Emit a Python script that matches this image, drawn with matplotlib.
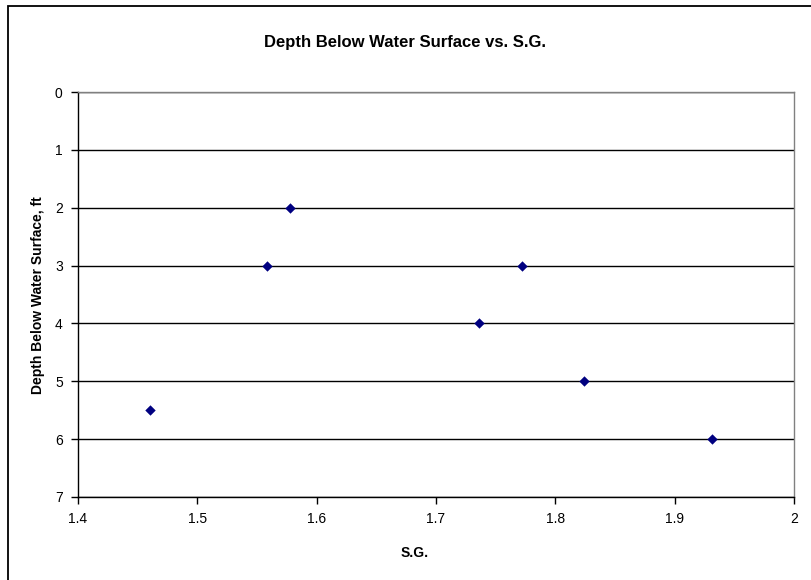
import matplotlib
matplotlib.use('Agg')
import matplotlib.pyplot as plt
from matplotlib.patches import Rectangle

plt.rcParams['font.family'] = ['Liberation Sans', 'DejaVu Sans']

# specific gravity vs depth readings
sg = [1.578, 1.558, 1.46, 1.736, 1.772, 1.824, 1.931]
depth_ft = [2, 3, 5.5, 4, 3, 5, 6]

x_ticks = [1.4, 1.5, 1.6, 1.7, 1.8, 1.9, 2.0]
x_tick_labels = ['1.4', '1.5', '1.6', '1.7', '1.8', '1.9', '2']
y_ticks = [0, 1, 2, 3, 4, 5, 6, 7]

fig = plt.figure(figsize=(8.11, 5.8), dpi=100)

# chart-area border (Excel style, runs off right/bottom edge)
fig.patches.append(Rectangle((8 / 811, -0.05), 1.2, 1 - 6 / 580 + 0.05,
                             transform=fig.transFigure, fill=False,
                             edgecolor='black', linewidth=1.3))

ax = fig.add_axes([78 / 811, 1 - 497 / 580, (794 - 78) / 811, (497 - 92) / 580])

ax.scatter(sg, depth_ft, marker='D', s=28, color='#000080', zorder=3, linewidths=0)

ax.set_xlim(1.4, 2.0)
ax.set_ylim(7, 0)
ax.set_xticks(x_ticks)
ax.set_xticklabels(x_tick_labels)
ax.set_yticks(y_ticks)

ax.yaxis.grid(True, color='black', linewidth=1)
ax.set_axisbelow(True)

for side in ['top', 'right']:
    ax.spines[side].set_color('#808080')
    ax.spines[side].set_linewidth(1)
for side in ['left', 'bottom']:
    ax.spines[side].set_color('black')
    ax.spines[side].set_linewidth(1)

ax.tick_params(axis='both', direction='out', length=5, width=1, labelsize=10, pad=6)

fig.text(405 / 811, 1 - 42 / 580, 'Depth Below Water Surface vs. S.G.',
         ha='center', va='center', fontsize=12, fontweight='bold')
fig.text(415 / 811, 1 - 553 / 580, 'S.G.', ha='center', va='center',
         fontsize=10, fontweight='bold')
fig.text(38 / 811, 1 - 295 / 580, 'Depth Below Water Surface, ft', ha='center',
         va='center', rotation=90, fontsize=10, fontweight='bold')

plt.savefig('out.png', dpi=100)
